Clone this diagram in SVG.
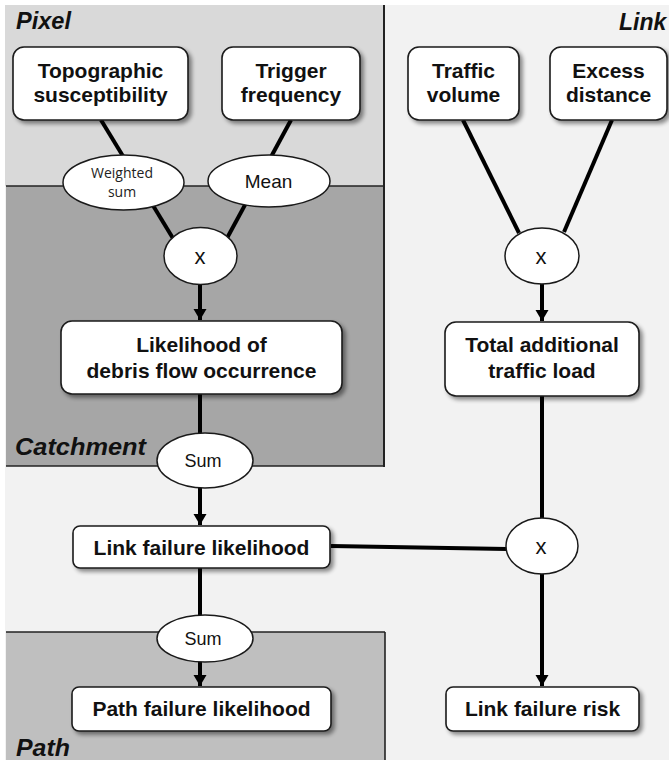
<svg xmlns="http://www.w3.org/2000/svg" width="669" height="760" viewBox="0 0 669 760">
<style>
.box{fill:#fff;stroke:#1a1a1a;stroke-width:1.6;filter:url(#sh)}
.ell{fill:#fff;stroke:#1a1a1a;stroke-width:1.5}
.bt{font-family:"Liberation Sans",Arial,sans-serif;font-weight:bold;font-size:21px;fill:#111;text-anchor:middle}
.et{font-family:"Liberation Sans",Arial,sans-serif;font-size:18px;fill:#111;text-anchor:middle}
.rl{font-family:"Liberation Sans",Arial,sans-serif;font-weight:bold;font-style:italic;font-size:23px;fill:#111}
.ln{stroke:#000;stroke-width:4;fill:none}
.ar{stroke:#000;stroke-width:4;fill:none;marker-end:url(#ah)}
.bd{stroke:#222;stroke-width:1.6}
</style>
<defs>
<filter id="sh" x="-10%" y="-20%" width="130%" height="160%">
<feGaussianBlur in="SourceAlpha" stdDeviation="2"/>
<feOffset dx="3" dy="3" result="o"/>
<feComponentTransfer><feFuncA type="linear" slope="0.45"/></feComponentTransfer>
<feMerge><feMergeNode/><feMergeNode in="SourceGraphic"/></feMerge>
</filter>
<marker id="ah" markerUnits="userSpaceOnUse" markerWidth="14" markerHeight="14" refX="11" refY="6.5" orient="auto">
<path d="M0,0 L11,6.5 L0,13 Z" fill="#000"/>
</marker>
</defs>
<g id="regions">
<rect x="0" y="0" width="669" height="760" fill="#fff"/>
<rect x="5" y="5" width="664" height="755" fill="#f2f2f2"/>
<rect x="5" y="5" width="379" height="181" fill="#d9d9d9"/>
<rect x="6" y="186" width="378" height="280" fill="#a6a6a6"/>
<rect x="6" y="632" width="379" height="128" fill="#bfbfbf"/>
<line class="bd" x1="6" y1="186" x2="384" y2="186"/>
<line class="bd" x1="6" y1="466" x2="384" y2="466"/>
<line x1="384" y1="5" x2="384" y2="467" stroke="#222" stroke-width="2"/>
<line class="bd" x1="6" y1="632" x2="385" y2="632"/>
<line class="bd" x1="385" y1="632" x2="385" y2="760"/>
<text class="rl" x="16" y="29" textLength="55" lengthAdjust="spacingAndGlyphs">Pixel</text>
<text class="rl" x="15" y="455" textLength="131" lengthAdjust="spacingAndGlyphs">Catchment</text>
<text class="rl" x="16" y="756" textLength="54" lengthAdjust="spacingAndGlyphs">Path</text>
<text class="rl" x="619" y="30">Link</text>
</g>
<g id="connectors">
<line class="ln" x1="101" y1="120" x2="174" y2="240"/>
<line class="ln" x1="291" y1="120" x2="226" y2="240"/>
<line class="ar" x1="200" y1="285" x2="200" y2="320"/>
<line class="ln" x1="200" y1="394" x2="200" y2="436"/>
<line class="ar" x1="200" y1="487" x2="200" y2="525"/>
<line class="ln" x1="200" y1="568" x2="200" y2="616"/>
<line class="ar" x1="200" y1="661" x2="200" y2="686"/>
<line class="ln" x1="463" y1="120" x2="519" y2="233"/>
<line class="ln" x1="612" y1="120" x2="564" y2="232"/>
<line class="ar" x1="542" y1="284" x2="542" y2="321"/>
<line class="ln" x1="542" y1="396" x2="542" y2="519"/>
<line class="ln" x1="331" y1="546" x2="507" y2="549"/>
<line class="ar" x1="542" y1="574" x2="542" y2="686"/>
</g>
<g id="n-topo"><rect class="box" x="13" y="47" width="175" height="73" rx="11"/><text class="bt" x="100.5" y="78">Topographic</text><text class="bt" x="100.5" y="102">susceptibility</text></g>
<g id="n-trigger"><rect class="box" x="222" y="47" width="138" height="73" rx="11"/><text class="bt" x="291" y="78">Trigger</text><text class="bt" x="291" y="102">frequency</text></g>
<g id="n-traffic"><rect class="box" x="408" y="47" width="111" height="73" rx="11"/><text class="bt" x="463.5" y="78">Traffic</text><text class="bt" x="463.5" y="102">volume</text></g>
<g id="n-excess"><rect class="box" x="550" y="47" width="117" height="73" rx="11"/><text class="bt" x="608.5" y="78">Excess</text><text class="bt" x="608.5" y="102">distance</text></g>
<g id="n-wsum"><ellipse class="ell" cx="123.5" cy="182.5" rx="60.5" ry="27.5"/><text x="122" y="178" text-anchor="middle" font-family="'Open Sans','Liberation Sans',sans-serif" font-size="14" fill="#222">Weighted</text><text x="122" y="197" text-anchor="middle" font-family="'Open Sans','Liberation Sans',sans-serif" font-size="14" fill="#222">sum</text></g>
<g id="n-mean"><ellipse class="ell" cx="269" cy="181" rx="61" ry="26"/><text class="et" x="268.5" y="188" style="font-size:19px">Mean</text></g>
<g id="n-x1"><ellipse class="ell" cx="200.5" cy="256" rx="36.5" ry="28.5"/><text class="et" x="200" y="264" style="font-size:22px">x</text></g>
<g id="n-x2"><ellipse class="ell" cx="542" cy="256" rx="37" ry="28"/><text class="et" x="541" y="264" style="font-size:22px">x</text></g>
<g id="n-likelihood"><rect class="box" x="61" y="321" width="281" height="73" rx="11"/><text class="bt" x="201.5" y="352">Likelihood of</text><text class="bt" x="201.5" y="378">debris flow occurrence</text></g>
<g id="n-total"><rect class="box" x="445" y="322" width="194" height="74" rx="11"/><text class="bt" x="542" y="352">Total additional</text><text class="bt" x="542" y="378">traffic load</text></g>
<g id="n-sum1"><ellipse class="ell" cx="205" cy="460.5" rx="48" ry="27.5"/><text class="et" x="203" y="467" style="font-size:18px">Sum</text></g>
<g id="n-lfl"><rect class="box" x="73" y="526" width="257" height="42" rx="7"/><text class="bt" x="201.5" y="555">Link failure likelihood</text></g>
<g id="n-x3"><ellipse class="ell" cx="542" cy="546" rx="36" ry="28"/><text class="et" x="541" y="554" style="font-size:22px">x</text></g>
<g id="n-sum2"><ellipse class="ell" cx="205" cy="638.5" rx="48" ry="23.5"/><text class="et" x="203" y="645" style="font-size:18px">Sum</text></g>
<g id="n-pfl"><rect class="box" x="72" y="687" width="259" height="44" rx="7"/><text class="bt" x="201.5" y="716">Path failure likelihood</text></g>
<g id="n-lfr"><rect class="box" x="446" y="687" width="193" height="44" rx="7"/><text class="bt" x="542.5" y="716">Link failure risk</text></g>
</svg>
